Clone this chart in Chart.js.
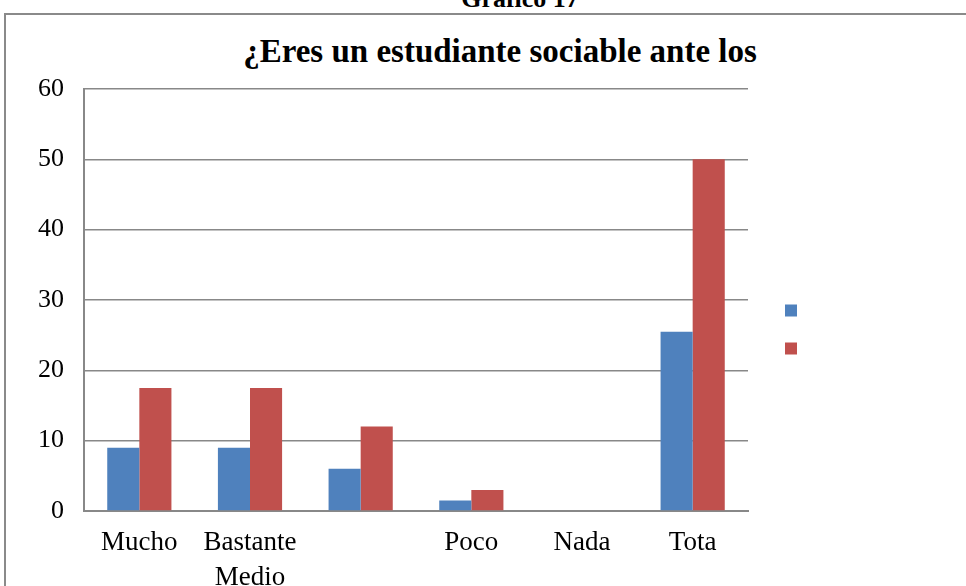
<!DOCTYPE html>
<html>
<head>
<meta charset="utf-8">
<script src="https://cdn.jsdelivr.net/npm/chart.js@4"></script>
<style>
  body { margin:0; background:#fff; }
  #wrap { position:relative; width:966px; height:586px; overflow:hidden; }
  #caja { position:absolute; left:4px; top:13px; width:1000px; height:700px; border:2px solid #8a8a8a; }
  #sup { position:absolute; left:0; width:1040px; top:-16px; text-align:center; font:bold 26px "Liberation Serif"; }
  #ttl { position:absolute; left:0; width:1000px; top:33px; text-align:center; font:bold 33px "Liberation Serif"; }
  canvas { position:absolute; left:0; top:0; }
</style>
</head>
<body>
<div id="wrap">
  <div id="sup">Grafico 17</div>
  <div id="caja"></div>
  <div id="ttl">¿Eres un estudiante sociable ante los</div>
  <canvas id="myChart" width="966" height="586"></canvas>
</div>
<script>
  const categorias = ['Mucho', ['Bastante', 'Medio'], '', 'Poco', 'Nada', 'Tota'];
  const serie1 = [9, 9, 6, 1.5, 0, 25.5];
  const serie2 = [17.5, 17.5, 12, 3, 0, 50];
  const ticksY = [0, 10, 20, 30, 40, 50, 60];

  const gris = '#888888';

  const data = {
    labels: categorias,
    datasets: [{
      label: '',
      backgroundColor: '#4f81bd',
      data: serie1,
    }, {
      label: '',
      backgroundColor: '#c0504d',
      data: serie2,
    }]
  };

  // la leyenda queda un poco separada del area del grafico
  const moverLeyenda = {
    id: 'moverLeyenda',
    afterLayout(chart) {
      chart.legend.left += 19;
      chart.legend.right += 19;
      chart.legend.top -= 8;
      chart.legend.bottom -= 8;
    }
  };

  const config = {
    type: 'bar',
    data: data,
    plugins: [moverLeyenda],
    options: {
      responsive: false,
      animation: false,
      layout: { padding: { left: 20, top: 89, right: 168, bottom: 0 } },
      datasets: { bar: { categoryPercentage: 0.58, barPercentage: 1 } },
      plugins: {
        title: { display: false },
        tooltip: { enabled: false },
        legend: {
          position: 'right',
          labels: { boxWidth: 12, boxHeight: 12, padding: 18, font: { size: 20 } }
        }
      },
      scales: {
        x: {
          grid: { display: false, drawTicks: false },
          border: { color: gris, width: 2 },
          ticks: { color: '#000', font: { family: 'Liberation Serif', size: 27, lineHeight: 1.27 }, maxRotation: 0, autoSkip: false, padding: 15 },
          afterFit: s => { s.height = 75; }
        },
        y: {
          min: 0, max: 60,
          afterBuildTicks: s => { s.ticks = ticksY.map(v => ({ value: v })); },
          grid: { color: gris, lineWidth: 1.5, drawTicks: false },
          border: { color: gris, width: 2 },
          ticks: { color: '#000', font: { family: 'Liberation Serif', size: 26 }, padding: 20 },
          afterFit: s => { s.width = 64; }
        }
      }
    }
  };

  const myChart = new Chart(
    document.getElementById('myChart'),
    config
  );
</script>
</body>
</html>
